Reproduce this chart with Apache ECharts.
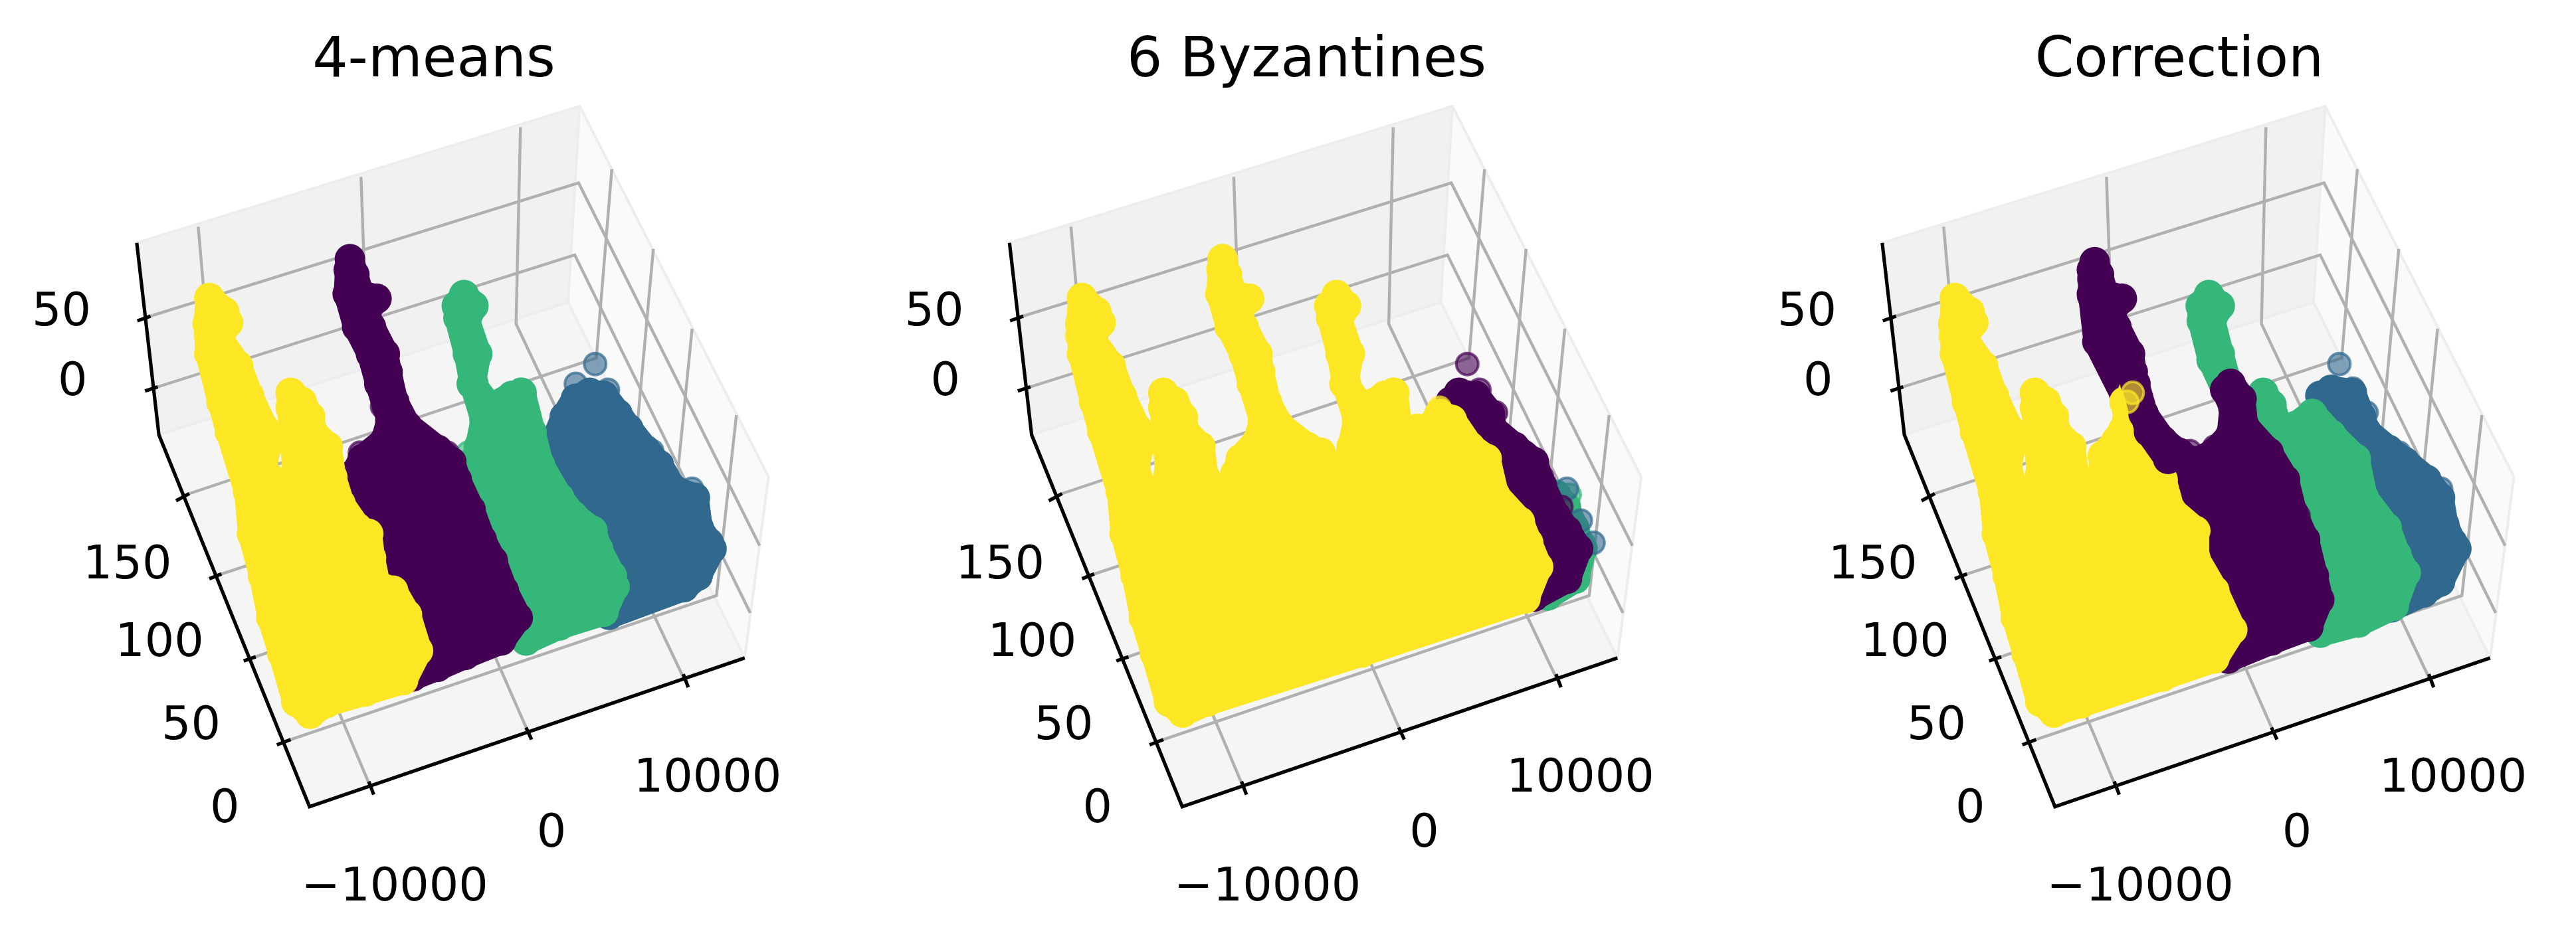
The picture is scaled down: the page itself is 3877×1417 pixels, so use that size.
<!DOCTYPE html>
<html><head><meta charset="utf-8">
<style>html,body{margin:0;padding:0;background:#fff}#c{width:3877px;height:1417px}</style>
<script src="https://cdn.jsdelivr.net/npm/echarts@6/dist/echarts.min.js"></script>
</head><body><div id="c"></div>
<script>
// All coordinates are in the projected plane of each 3D panel.
const panelTitles = ['4-means', '6 Byzantines', 'Correction'];
const paneBack  = [[247,405],[1047,177],[1026,504],[287,725]];
const paneRight = [[1047,177],[1388,795],[1345,1097],[1026,504]];
const paneFloor = [[287,725],[1026,504],[1345,1097],[559,1345]];
const paneEdges = [
  [[247,405],[1047,177],[1388,795]], [[1047,177],[1026,504],[1345,1097]], [[287,725],[1026,504]], [[1388,795],[1345,1097]]
];
const gridLines = [
  [[272,527],[1045,305],[1372,910]],   // z = 50
  [[285,645],[1038,425],[1355,1022]],  // z = 0
  [[669,1312],[388,695],[358,378]],    // x = -10000
  [[955,1223],[664,610],[652,295]],    // x = 0
  [[1236,1133],[932,540],[940,212]],   // x = 10000
  [[342,823],[1077,597],[1105,282]],   // y = 150
  [[400,957],[1149,729],[1180,415]],   // y = 100
  [[462,1095],[1217,853],[1250,548]],  // y = 50
  [[525,1233],[1294,993],[1330,692]]   // y = 0
];
const blackAxes = [[[247,405],[287,725],[559,1345],[1345,1097]]];
const tickMarks = [
  [[248,535],[272,527]], [[262,652],[285,645]],
  [[318,835],[342,823]], [[378,965],[400,957]], [[440,1102],[462,1095]], [[500,1242],[525,1233]],
  [[666,1303],[675,1325]], [[950,1213],[960,1233]], [[1234,1124],[1243,1146]]
];
const tickLabels = [
  [111,522,'50'],[131,639,'0'],
  [230,944,'150'],[288,1074,'100'],[345,1212,'50'],[406,1351,'0'],
  [713,1481,'\u221210000'],[996,1392,'0'],[1278,1300,'10000']
];
const colorBlue = '49,104,142', colorGreen = '53,183,121', colorPurple = '68,1,84', colorYellow = '253,231,37';

// Panel 1: 4-means
const p1Blue = [[1065,655],[1090,660],[1115,690],[1135,715],[1165,750],[1190,775],[1215,815],[1255,830],[1262,880],[1280,905],[1285,915],[1260,960],[1235,979],[1100,1025],[1060,930],[1010,790],[1005,730],[1020,695],[1040,665]];
const p1BlueDots = [[1075,607],[1098,650],[1120,688],[1178,752],[1250,815],[1040,640]];
const p1Green = [[838,492],[855,510],[842,535],[862,590],[852,640],[885,680],[925,660],[942,655],[960,720],[975,775],[1010,830],[1035,860],[1070,885],[1080,915],[1105,960],[1110,978],[1090,1020],[1010,1043],[950,1068],[890,1000],[850,880],[850,790],[865,745],[875,700],[855,640],[845,590],[828,530],[825,510]];
const p1GreenDots = [[838,490],[825,510],[860,510],[845,575],[940,650],[845,755]];
const p1Purple = [[632,432],[640,458],[650,490],[680,498],[660,520],[670,545],[695,590],[700,620],[712,670],[735,710],[790,750],[815,770],[825,800],[850,850],[870,900],[890,935],[910,985],[935,1030],[905,1068],[840,1092],[790,1112],[745,1128],[700,1000],[655,870],[640,790],[655,765],[695,735],[705,700],[685,640],[670,590],[645,545],[628,490],[630,450]];
const p1PurpleDots = [[632,432],[630,465],[625,495],[680,498],[690,678],[808,755],[650,755],[700,610],[880,935]];
const p1Yellow = [[378,497],[405,520],[412,538],[395,565],[430,610],[450,660],[478,715],[482,745],[475,780],[492,800],[510,860],[535,790],[530,720],[525,680],[525,655],[545,670],[560,695],[565,720],[592,745],[600,795],[615,840],[645,880],[665,890],[670,930],[680,975],[710,985],[735,1025],[755,1085],[728,1134],[660,1153],[590,1172],[560,1190],[535,1170],[510,1090],[490,1030],[475,960],[455,890],[448,820],[415,720],[400,670],[378,590],[375,540]];
const p1YellowDots = [[378,497],[407,535],[372,560],[525,655],[565,692],[590,745],[450,830],[655,885],[700,985]];

// Panel 2: 6 Byzantines
const p2BlueDots = [[1270,815],[1295,868],[1318,905]];
const p2Green = [[1250,825],[1268,845],[1283,880],[1298,915],[1285,965],[1235,993],[1200,900]];
const p2GreenDots = [[1275,825],[1300,905]];
const p2Purple = [[1075,655],[1105,660],[1131,690],[1136,715],[1175,745],[1210,770],[1225,810],[1250,860],[1270,885],[1290,915],[1270,965],[1210,995],[1100,800],[1060,670]];
const p2PurpleDots = [[1090,607],[1112,650],[1142,688],[1195,755],[1225,795],[1260,845]];
const p2Yellow = [[394,497],[420,520],[428,538],[411,565],[446,610],[466,660],[494,715],[498,745],[491,780],[508,830],[525,860],[551,790],[546,720],[541,680],[541,655],[561,670],[576,695],[581,720],[608,745],[616,795],[628,840],[640,860],[671,790],[681,765],[711,735],[721,700],[701,640],[686,590],[661,545],[644,490],[646,450],[648,432],[656,458],[666,490],[696,498],[676,520],[686,545],[711,590],[716,620],[728,670],[751,710],[800,745],[825,755],[845,785],[866,790],[881,745],[891,700],[871,640],[861,590],[844,530],[841,510],[854,492],[871,510],[858,535],[878,590],[868,640],[901,680],[941,660],[958,655],[966,720],[1000,715],[1020,715],[1040,690],[1062,700],[1095,745],[1125,765],[1140,825],[1185,870],[1200,905],[1218,945],[1195,998],[900,1088],[620,1170],[576,1188],[551,1170],[526,1090],[506,1030],[491,960],[471,890],[464,820],[431,720],[416,670],[394,590],[391,540]];
const p2YellowDots = [[393,497],[422,535],[385,560],[540,655],[580,693],[605,745],[648,437],[695,498],[852,495],[835,510],[955,650],[1040,680],[1185,870],[820,755]];

// Panel 3: Correction
const p3Blue = [[1110,650],[1148,655],[1165,695],[1175,720],[1215,750],[1245,770],[1285,800],[1310,830],[1318,875],[1333,905],[1340,915],[1310,970],[1280,988],[1220,1013],[1150,900],[1090,660]];
const p3BlueDots = [[1125,607],[1150,648],[1175,688],[1235,755],[1312,815],[1320,870]];
const p3Green = [[885,492],[905,510],[890,535],[905,590],[920,640],[935,690],[985,655],[1000,675],[1015,720],[1045,710],[1075,690],[1110,725],[1155,765],[1170,830],[1212,880],[1230,925],[1247,955],[1225,1010],[1160,1038],[1090,1055],[1000,800],[950,720],[890,600],[872,535],[870,510]];
const p3GreenDots = [[885,492],[870,510],[905,510],[885,575],[985,655],[1075,690]];
const p3Purple = [[675,437],[683,458],[693,490],[725,498],[705,520],[715,545],[740,590],[745,620],[755,670],[780,715],[825,755],[860,770],[895,755],[925,725],[930,680],[915,650],[925,640],[945,665],[950,710],[995,755],[1025,800],[1040,855],[1062,900],[1078,960],[1088,1000],[1068,1045],[1000,1068],[920,1098],[840,900],[790,770],[730,660],[680,570],[670,490],[670,450]];
const p3PurpleDots = [[675,437],[665,465],[665,495],[725,498],[850,752],[895,745],[990,745],[1020,800],[1050,860]];
const p3Yellow = [[418,497],[445,520],[452,538],[435,565],[470,610],[490,660],[518,715],[522,745],[515,780],[532,830],[550,860],[575,790],[570,720],[565,680],[565,655],[585,670],[600,695],[605,720],[632,745],[640,795],[652,840],[668,860],[690,790],[690,760],[715,735],[735,700],[730,670],[745,655],[760,680],[760,745],[800,800],[815,850],[860,885],[860,930],[895,985],[928,1050],[895,1098],[800,1128],[650,1173],[600,1188],[575,1170],[550,1090],[530,1030],[515,960],[495,890],[488,820],[455,720],[440,670],[418,590],[415,540]];
const p3YellowDots = [[418,497],[447,535],[410,560],[565,655],[605,693],[630,745],[855,882],[800,800]];
const p3PurpleFront = [[750,640],[765,690],[800,735],[830,755],[810,765],[775,720]];
const p3YellowFront = [[745,655],[735,670]];

const panels = [
  [[p1Blue,p1BlueDots,colorBlue],[p1Green,p1GreenDots,colorGreen],[p1Purple,p1PurpleDots,colorPurple],[p1Yellow,p1YellowDots,colorYellow]],
  [[p2Green,p2GreenDots,colorGreen],[[],p2BlueDots,colorBlue],[p2Purple,p2PurpleDots,colorPurple],[p2Yellow,p2YellowDots,colorYellow]],
  [[p3Blue,p3BlueDots,colorBlue],[p3Green,p3GreenDots,colorGreen],[p3Purple,p3PurpleDots,colorPurple],[p3Yellow,p3YellowDots,colorYellow],[p3PurpleFront,[],colorPurple],[[],p3YellowFront,colorYellow]]
];

const frameLeft = [0, 1313.5, 2627];
const frameWidth = [1300, 1300, 1250];
const markLeft = [0, 1300, 2600];
const markWidth = [1300, 1300, 1277];
const titleCenter = [648, 1961.5, 3275];

const grids = [], xAxes = [], yAxes = [], series = [];
let z = 1;
function addGrid(left, width, xMax) {
  grids.push({left, width, top: 0, height: 1417, containLabel: false});
  xAxes.push({type:'value', gridIndex: grids.length-1, min:0, max:xMax, show:false});
  yAxes.push({type:'value', gridIndex: grids.length-1, min:0, max:1569, inverse:true, show:false});
  return grids.length-1;
}
function polygon(idx, pts, fill, stroke, lw) {
  if (!pts.length) return;
  series.push({type:'custom', xAxisIndex:idx, yAxisIndex:idx, z:z++, silent:true, animation:false, clip:false,
    data:pts, encode:{x:0,y:1},
    renderItem:(p, api) => p.dataIndex ? null : ({type:'polygon',
      shape:{points:pts.map(q => api.coord(q))},
      style:{fill, stroke:stroke||null, lineWidth:lw||0, lineJoin:'round'}})});
}
function line(idx, pts, color, width) {
  series.push({type:'line', xAxisIndex:idx, yAxisIndex:idx, z:z++, silent:true, animation:false, showSymbol:false, symbol:'none',
    data:pts, lineStyle:{color, width, cap:'butt', join:'miter'}});
}
panels.forEach((clusters, i) => {
  const f = addGrid(frameLeft[i], frameWidth[i], frameWidth[i]*1.2);
  polygon(f, paneBack, '#f1f1f1');
  polygon(f, paneRight, '#fafafa');
  polygon(f, paneFloor, '#f5f5f5');
  paneEdges.forEach(e => line(f, e, '#ededed', 4));
  gridLines.forEach(g => line(f, g, '#b0b0b0', 4.4));
  blackAxes.forEach(a => line(f, a, '#000', 5.2));
  tickMarks.forEach(t => line(f, t, '#000', 5.2));
  series.push({type:'scatter', xAxisIndex:f, yAxisIndex:f, z:z++, silent:true, animation:false, clip:false, symbolSize:0, data:tickLabels,
    itemStyle:{opacity:1},
    label:{show:true, position:'inside', formatter:p => p.value[2], color:'#000', fontFamily:'DejaVu Sans', fontSize:70}});
  const m = addGrid(markLeft[i], markWidth[i], 1560);
  clusters.forEach(([body, dots, rgb]) => {
    polygon(m, body, `rgb(${rgb})`, `rgb(${rgb})`, 42);
    if (body.length) series.push({type:'scatter', xAxisIndex:m, yAxisIndex:m, z:z++, silent:true, animation:false, clip:false,
      symbolSize:46, data:body, itemStyle:{opacity:1, color:`rgb(${rgb})`}});
    if (dots.length) series.push({type:'scatter', xAxisIndex:m, yAxisIndex:m, z:z++, silent:true, animation:false, clip:false,
      symbolSize:33, data:dots,
      itemStyle:{opacity:1, color:`rgba(${rgb},0.6)`, borderColor:`rgba(${rgb},0.7)`, borderWidth:4}});
  });
});
const chart = echarts.init(document.getElementById('c'), null, {renderer:'canvas'});
chart.setOption({
  animation:false, backgroundColor:'#fff',
  title: panelTitles.map((t,i)=>({text:t, left:titleCenter[i], top:46, textAlign:'center',
    textStyle:{fontFamily:'DejaVu Sans', fontWeight:'normal', fontSize:84, color:'#000'}})),
  grid:grids, xAxis:xAxes, yAxis:yAxes, series
});
</script></body></html>
